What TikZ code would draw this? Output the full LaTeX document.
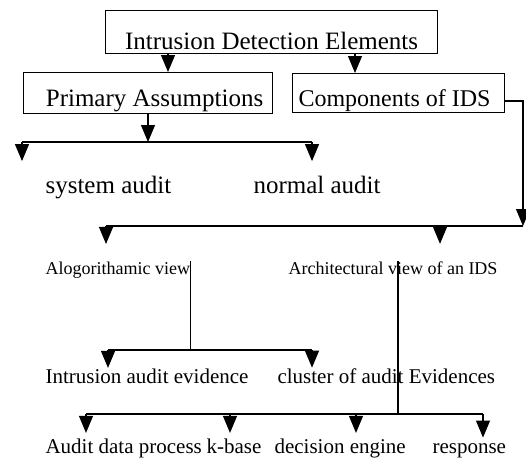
\documentclass[tikz,border=0pt]{standalone}
\usepackage{fontspec}
\setmainfont{Liberation Serif}
\usetikzlibrary{arrows.meta}

\tikzset{
  box/.style={draw, inner sep=0pt, anchor=north west},
  txt/.style={inner sep=0pt, anchor=base west},
  big/.style={font=\fontsize{25}{30}\selectfont},
  mid/.style={font=\fontsize{21}{25}\selectfont},
  small/.style={font=\fontsize{18}{22}\selectfont},
  arr/.style={-{Triangle[width=14pt,length=17pt]}}
}

\begin{document}
\begin{tikzpicture}[x=1pt,y=-1pt,line width=1.1pt]
    \useasboundingbox (0,0) rectangle (526,459);
    % boxes
    \node[box,big,minimum width=332pt,text height=39pt,text depth=4pt] (ide) at (105,10) {Intrusion Detection Elements};
    \node[box,big,minimum width=249pt,text height=34pt,text depth=7pt] (pa) at (23,72) {\hspace*{13pt}Primary Assumptions};
    \node[box,font=\fontsize{24}{29}\selectfont,minimum width=212pt,text height=33pt,text depth=6pt] (cids) at (292,73) {Components of IDS\hspace*{8pt}};
    % labels
    \node[txt,big] (sys) at (45,193) {system audit};
    \node[txt,big] (norm) at (253,193) {normal audit};
    \node[txt,small] (alg) at (45,274) {Alogorithamic view};
    \node[txt,small] (arch) at (288,274) {Architectural view of an IDS};
    \node[txt,mid] (iae) at (45,383) {Intrusion audit evidence};
    \node[txt,mid] (clus) at (277,383) {cluster of audit Evidences};
    \node[txt,mid] (adp) at (45,453) {Audit data process};
    \node[txt,mid] (kbase) at (206,453) {k-base};
    \node[txt,mid] (dec) at (274,453) {decision engine};
    \node[txt,mid] (resp) at (432,453) {response};
    % junctions and columns
    \coordinate (paX) at (168,0);
    \coordinate (cidsX) at (355,0);
    \coordinate (paBar) at (148,142);
    \coordinate (sysX) at (22,0);
    \coordinate (normX) at (312,0);
    \coordinate (cidsR) at (523,101);
    \coordinate (idsBar) at (0,226);
    \coordinate (algX) at (106,0);
    \coordinate (archX) at (440,0);
    \coordinate (algBar) at (190,350);
    \coordinate (iaeX) at (108,0);
    \coordinate (clusX) at (312,0);
    \coordinate (archBar) at (398,414);
    \coordinate (adpX) at (86,0);
    \coordinate (kbX) at (230,0);
    \coordinate (decX) at (356,0);
    \coordinate (respX) at (483,0);
    % top level
    \draw[arr] (ide.south -| paX) -- (pa.north -| paX);
    \draw[arr] (ide.south -| cidsX) -- (cids.north -| cidsX);
    % primary assumptions
    \draw[arr] (pa.south -| paBar) -- (paBar);
    \draw (paBar -| sysX) -- (paBar -| normX);
    \draw[arr,shorten >=14pt] (paBar -| sysX) -- (sys.north -| sysX);
    \draw[arr,shorten >=14pt] (paBar -| normX) -- (norm.north -| normX);
    % components of IDS
    \draw[arr] (cids.east |- cidsR) -- (cidsR) -- (cidsR |- idsBar);
    \draw (cidsR |- idsBar) -- (idsBar -| algX);
    \draw[arr,shorten >=17pt] (idsBar -| algX) -- (alg.north -| algX);
    \draw[arr,shorten >=17pt] (idsBar -| archX) -- (arch.north -| archX);
    % algorithmic view
    \draw (alg.north east) -- (alg.north east |- algBar);
    \draw (algBar -| iaeX) -- (algBar -| clusX);
    \draw[arr] (algBar -| iaeX) -- (iae.north -| iaeX);
    \draw[arr] (algBar -| clusX) -- (clus.north -| clusX);
    % architectural view
    \draw (arch.north -| archBar) -- (archBar);
    \draw (archBar -| adpX) -- (archBar -| respX);
    \foreach \k/\n in {adpX/adp,kbX/kbase,decX/dec,respX/resp}
        \draw[arr,shorten >=5pt] (archBar -| \k) -- (\n.north -| \k);
\end{tikzpicture}
\end{document}
